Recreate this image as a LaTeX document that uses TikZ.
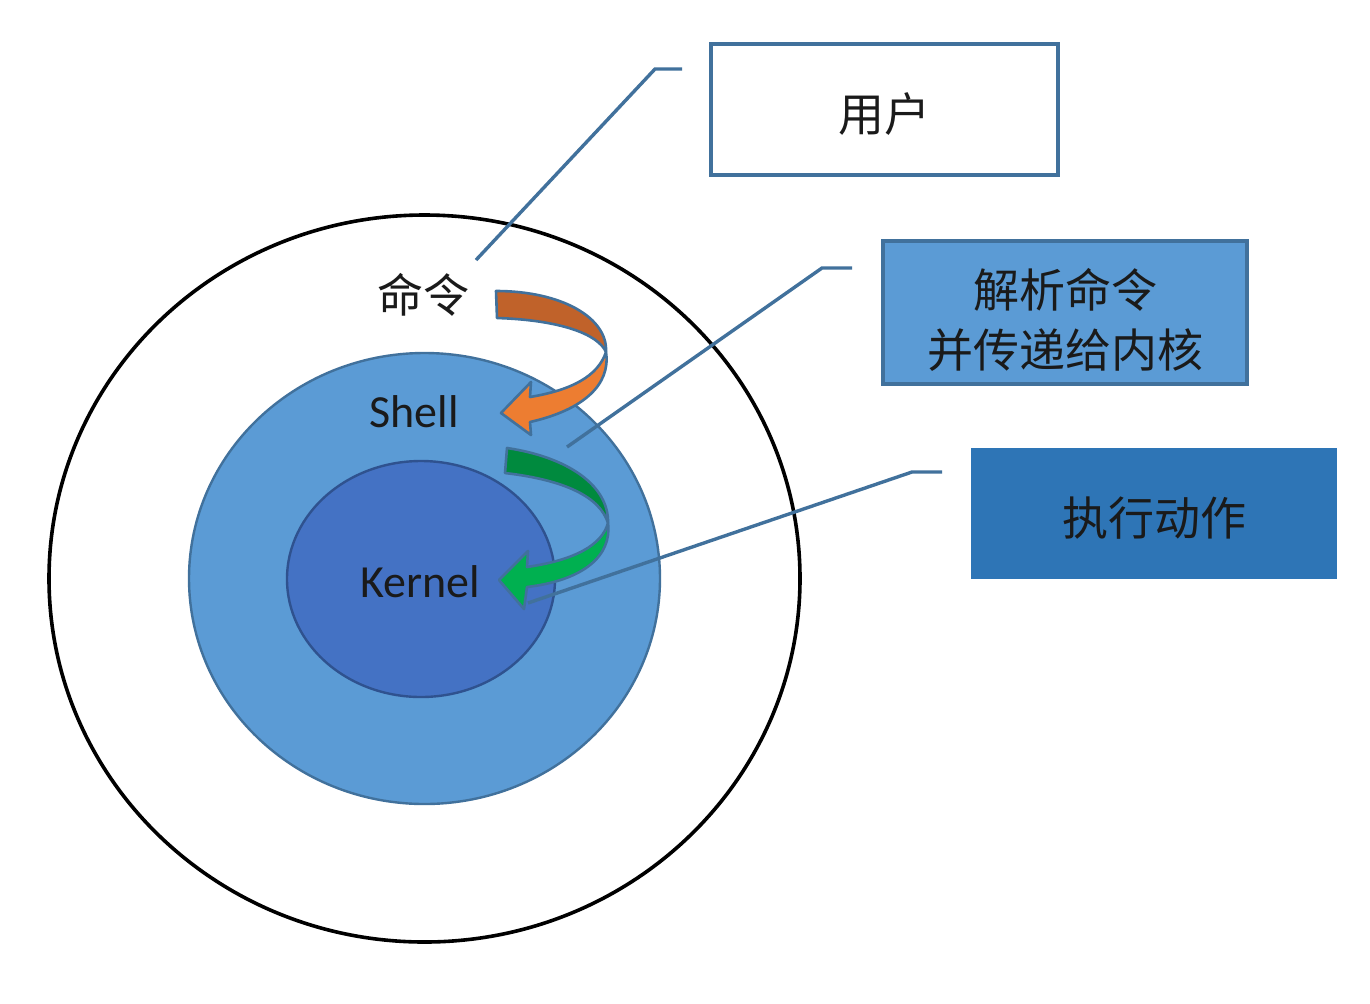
\documentclass[tikz,border=0pt]{standalone}
\usepackage{fontspec}
\setmainfont{Carlito}
\newfontfamily\cjk{Noto Sans CJK SC}
\usetikzlibrary{shapes.geometric}
\definecolor{edgeblue}{HTML}{41719C}
\definecolor{shellblue}{HTML}{5B9BD5}
\definecolor{kernelblue}{HTML}{4472C4}
\definecolor{kerneledge}{HTML}{2F528F}
\definecolor{darkbox}{HTML}{2E75B6}
\definecolor{orangeback}{HTML}{C0622A}
\definecolor{orangefront}{HTML}{ED7D31}
\definecolor{greenback}{HTML}{008A3E}
\definecolor{greenfront}{HTML}{00B050}
\definecolor{txt}{HTML}{1A1A1A}
\tikzset{
  ring/.style={ellipse, inner sep=0pt},
  callout/.style={draw=edgeblue, line width=1.7pt},
  ribbon/.style={draw=edgeblue, line width=1.3pt, line join=round},
  infobox/.style={rectangle, inner sep=0pt, line width=1.7pt, align=center,
    font=\cjk\fontsize{23}{30}\selectfont, text=txt},
  oneline/.style={text height=24pt},
  lbl/.style={font=\fontsize{23}{28}\selectfont, text=txt, inner sep=0pt},
}
\begin{document}
\begin{tikzpicture}[x=0.5pt,y=-0.5pt]
\useasboundingbox[fill=white] (0,0) rectangle (1370,1003);
% circles
\node[ring, draw=black, line width=1.8pt, minimum width=375.5pt, minimum height=363.5pt] (outer) at (424.5,578.5) {};
\node[ring, draw=edgeblue, fill=shellblue, line width=1.2pt, minimum width=235.5pt, minimum height=225.5pt] (shell) at (424.5,578.5) {};
\node[ring, draw=kerneledge, fill=kernelblue, line width=1.2pt, minimum width=134pt, minimum height=118pt] (kernel) at (421,579) {};
% orange arrow
\path[ribbon, fill=orangeback] (496,291) .. controls (562,291) and (608,318) .. (606,352)
  .. controls (598,334) and (560,320) .. (497,318) -- cycle;
\path[ribbon, fill=orangefront] (606,352) .. controls (611,385) and (583,410) .. (530,422)
  -- (531,435) -- (501,413) -- (531,382) -- (530,397)
  .. controls (572,390) and (598,376) .. (606,352) -- cycle;
% green arrow
\path[ribbon, fill=greenback] (507,448) .. controls (567,457) and (609,485) .. (608,523)
  .. controls (600,497) and (565,480) .. (505,473) -- cycle;
\path[ribbon, fill=greenfront] (608,523) .. controls (612,555) and (585,580) .. (527,587)
  -- (524,609) -- (499,580) -- (528,551) -- (527,567)
  .. controls (575,560) and (602,545) .. (608,523) -- cycle;
% labels
\node[lbl, font=\cjk\fontsize{23}{28}\selectfont] (cmd) at (423,295) {命令};
\node[lbl] (shelltxt) at (414,412) {Shell};
\node[lbl] (kerneltxt) at (420,582) {Kernel};
% boxes
\node[infobox, oneline, draw=edgeblue, fill=white, minimum width=173.5pt, minimum height=65.5pt] (user) at (884.5,109.5) {用户};
\node[infobox, draw=edgeblue, fill=shellblue, minimum width=182pt, minimum height=71.5pt] (parse) at (1065,312.5)
  {\raisebox{-6.5pt}[\height][\depth]{\setlength{\tabcolsep}{0pt}\begin{tabular}{c}解析命令\\并传递给内核\end{tabular}}};
\node[infobox, oneline, fill=darkbox, minimum width=183pt, minimum height=65.5pt] (exec) at (1154,513.5) {执行动作};
% callouts
\coordinate (c1a) at (476,260); \coordinate (c1b) at (655,69); \coordinate (c1e) at (682,69);
\coordinate (c2a) at (567,447); \coordinate (c2b) at (822,268); \coordinate (c2e) at (852,268);
\coordinate (c3a) at (528,603); \coordinate (c3b) at (912,472); \coordinate (c3e) at (942,472);
\draw[callout] (c1a) -- (c1b) -- (c1e);
\draw[callout] (c2a) -- (c2b) -- (c2e);
\draw[callout] (c3a) -- (c3b) -- (c3e);
\end{tikzpicture}
\end{document}
